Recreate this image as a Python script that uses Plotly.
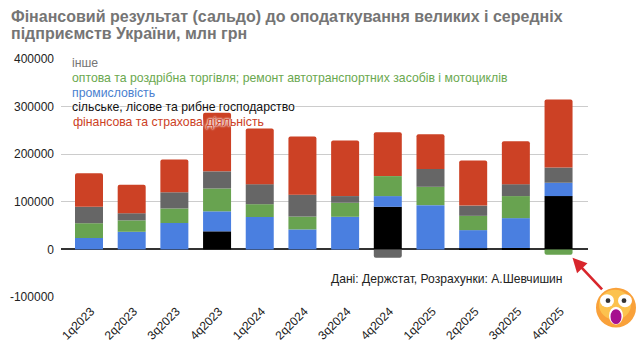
import plotly.graph_objects as go

W, H = 636, 350
quarters = ["1q2023","2q2023","3q2023","4q2023","1q2024","2q2024","3q2024","4q2024","1q2025","2q2025","3q2025","4q2025"]
agri =     [0, 0, 0, 38000, 0, 0, 0, 89500, 0, 2500, 3000, 112000]
industry = [24000, 37000, 55500, 42000, 68000, 42000, 68500, 22500, 93000, 38000, 62700, 28000]
trade =    [31000, 24000, 30500, 48000, 27000, 27000, 29500, 42000, 38500, 30000, 46300, -11200]
other =    [34500, 15000, 34000, 36000, 42000, 46000, 14000, -17500, 37500, 21500, 25000, 32000]
finance =  [70500, 60000, 69000, 123000, 117000, 122000, 117000, 92000, 73000, 95000, 90000, 143000]

series_names = ["сільське, лісове та рибне господарство", "промисловість",
                "оптова та роздрібна торгівля; ремонт автотранспортних засобів і мотоциклів",
                "інше", "фінансова та страхова діяльність"]
series_values = [agri, industry, trade, other, finance]
series_colors = ["#000000", "#4a7fe0", "#68a350", "#666666", "#cc4125"]
y_ticks = [-100000, 0, 100000, 200000, 300000, 400000]
title_lines = ["Фінансовий результат (сальдо) до оподаткування великих і середніх", "підприємств України, млн грн"]
source_text = "Дані: Держстат, Розрахунки: А.Шевчишин"
legend_order = [(3, "#757575"), (2, "#6aa84f"), (1, "#4a7fd0"), (0, "#111111"), (4, "#cc4125")]

FONT = "Liberation Sans, Arial, sans-serif"
L, R, T, B = 61, 588, 58.5, 297.3

def px(x): return (x - L) / (R - L)
def py(y): return (B - y) / (B - T)

fig = go.Figure()
for name, vals, col in zip(series_names, series_values, series_colors):
    fig.add_bar(x=quarters, y=vals, name=name, marker=dict(color=col, line=dict(width=0)))

annotations = []
for line, yc in zip(title_lines, [15.5, 32.5]):
    annotations.append(dict(text=f"<b>{line}</b>", xref="paper", yref="paper", x=px(9), y=py(yc), xanchor="left", yanchor="middle",
                            showarrow=False, align="left", font=dict(family=FONT, size=16, color="#757575")))
for i, (idx, col) in enumerate(legend_order):
    annotations.append(dict(text=series_names[idx], xref="paper", yref="paper", x=px(70 if idx != 4 else 71), y=py(63 + i * 14.7),
                            xanchor="left", yanchor="middle", showarrow=False,
                            font=dict(family=FONT, size=12.25, color=col, shadow="0 0 2px #fff, 0 0 2px #fff, 0 0 3px #fff")))
annotations.append(dict(text=source_text, xref="paper", yref="paper", x=px(328.5), y=py(279), xanchor="left", yanchor="middle",
                        showarrow=False, font=dict(family=FONT, size=12.1, color="#222222")))
# red arrow
annotations.append(dict(x=px(572.5), y=py(258), ax=31, ay=33, xref="paper", yref="paper", axref="pixel", ayref="pixel",
                        text="", showarrow=True, arrowhead=2, arrowsize=1.1, arrowwidth=2.6, arrowcolor="#d8262c"))

cx, cy, r = 616, 308, 20
def circle(x0, y0, rx, ry, color):
    return dict(type="circle", xref="paper", yref="paper", x0=px(x0 - rx), x1=px(x0 + rx), y0=py(y0 + ry), y1=py(y0 - ry),
                fillcolor=color, line=dict(width=0), layer="above")
shapes = [
    circle(cx, cy, r, r, "#f9a13a"),
    circle(cx - 1, cy - 3, r - 4, r - 5, "#fcc24e"),
    circle(cx - 9, cy - 7, 7, 6.5, "#ffffff"),
    circle(cx + 9, cy - 7, 7, 6.5, "#ffffff"),
    circle(cx - 8, cy - 7, 2.4, 2.4, "#333333"),
    circle(cx + 8, cy - 7, 2.4, 2.4, "#333333"),
    circle(cx, cy + 8, 7, 9, "#ffffff"),
    circle(cx, cy + 9, 5.5, 7.5, "#a6108f"),
]

fig.update_layout(
    width=W, height=H, autosize=False,
    barmode="relative", bargap=0.344, barcornerradius=2,
    showlegend=False, paper_bgcolor="#ffffff", plot_bgcolor="#ffffff",
    margin=dict(l=L, r=W - R, t=T, b=H - B, pad=0),
    annotations=annotations, shapes=shapes,
    font=dict(family=FONT, size=12, color="#222222"),
    xaxis=dict(range=[-0.656, 11.69], tickangle=-45, showgrid=False, zeroline=False, showline=False, ticks="",
               tickfont=dict(size=12, color="#222222"), automargin=False, ticklabelstandoff=4, ticklabelshift=2),
    yaxis=dict(range=[-100000, 400000], tickvals=y_ticks, ticktext=[str(v) for v in y_ticks], gridcolor="#cccccc", gridwidth=1,
               zeroline=True, zerolinecolor="#333333", zerolinewidth=1.5, showline=False, ticks="",
               tickfont=dict(size=12, color="#222222"), automargin=False, ticklabelstandoff=6),
)
fig.write_html("out.html", config=dict(displayModeBar=False),
               post_script="document.body.style.margin='0';document.documentElement.style.overflow='hidden';")
